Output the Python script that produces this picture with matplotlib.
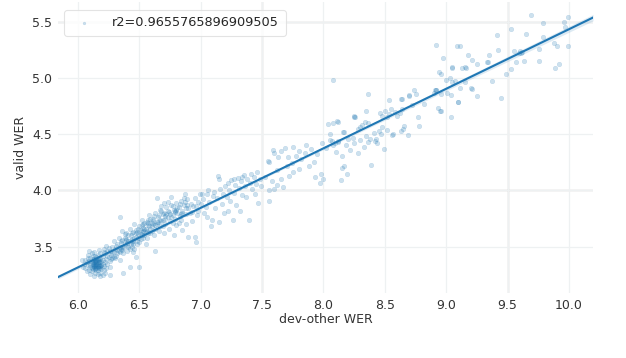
import numpy as np
import matplotlib.pyplot as plt

# points, grouped along the x axis
blob_x = [6.10, 6.12, 6.14, 6.15, 6.16, 6.17, 6.13, 6.18, 6.11, 6.19,
          6.15, 6.08, 6.20, 6.14, 6.16, 6.12, 6.21, 6.09, 6.17, 6.13,
          6.06, 6.22, 6.18, 6.15, 6.14, 6.16, 6.11, 6.19, 6.10, 6.23,
          6.07, 6.15, 6.17, 6.12, 6.20, 6.13, 6.18, 6.09, 6.24, 6.16,
          6.14, 6.15, 6.16, 6.13, 6.17, 6.12, 6.18, 6.14, 6.15, 6.19,
          6.05, 6.08, 6.21, 6.22, 6.11, 6.25, 6.10, 6.06, 6.26, 6.20,
          6.13, 6.17, 6.09, 6.27, 6.04, 6.23, 6.14, 6.16, 6.12, 6.18,
          6.15, 6.14, 6.16, 6.11, 6.19, 6.13, 6.17, 6.15, 6.12, 6.16,
          6.10, 6.20, 6.14, 6.18, 6.15, 6.13, 6.17, 6.16, 6.12, 6.14,
          6.28, 6.24, 6.07, 6.21, 6.29, 6.26, 6.03, 6.08, 6.22, 6.18,
          6.24, 6.26, 6.28, 6.25, 6.27, 6.23, 6.29, 6.21]
blob_y = [3.32, 3.35, 3.30, 3.37, 3.33, 3.36, 3.39, 3.31, 3.28, 3.34,
          3.41, 3.34, 3.38, 3.27, 3.29, 3.42, 3.33, 3.37, 3.40, 3.33,
          3.31, 3.36, 3.27, 3.34, 3.36, 3.38, 3.36, 3.30, 3.40, 3.39,
          3.36, 3.31, 3.33, 3.30, 3.42, 3.45, 3.44, 3.29, 3.35, 3.26,
          3.33, 3.35, 3.35, 3.36, 3.34, 3.33, 3.36, 3.38, 3.29, 3.37,
          3.35, 3.40, 3.29, 3.44, 3.44, 3.41, 3.26, 3.38, 3.37, 3.25,
          3.24, 3.47, 3.46, 3.43, 3.32, 3.31, 3.42, 3.43, 3.39, 3.39,
          3.38, 3.31, 3.32, 3.31, 3.33, 3.35, 3.37, 3.33, 3.37, 3.36,
          3.34, 3.35, 3.34, 3.33, 3.36, 3.32, 3.31, 3.39, 3.35, 3.37,
          3.40, 3.46, 3.28, 3.48, 3.45, 3.32, 3.38, 3.43, 3.27, 3.24,
          3.42, 3.46, 3.44, 3.49, 3.39, 3.51, 3.41, 3.45]

low_x = [6.30, 6.32, 6.34, 6.35, 6.36, 6.38, 6.40, 6.41, 6.42, 6.43,
         6.44, 6.45, 6.46, 6.47, 6.48, 6.49, 6.50, 6.51, 6.52, 6.53,
         6.54, 6.55, 6.56, 6.57, 6.58, 6.59, 6.60, 6.61, 6.62, 6.63,
         6.31, 6.33, 6.37, 6.39, 6.34, 6.36, 6.29, 6.32, 6.38, 6.40,
         6.42, 6.44, 6.46, 6.48, 6.50, 6.52, 6.54, 6.56, 6.58, 6.60,
         6.37, 6.50, 6.42, 6.26, 6.45, 6.63, 6.34, 6.47, 6.55, 6.62,
         6.28, 6.35, 6.39, 6.43, 6.47, 6.51, 6.53, 6.57, 6.61, 6.64,
         6.41, 6.45, 6.49, 6.53, 6.57, 6.59, 6.63, 6.36, 6.44, 6.52,
         6.31, 6.33, 6.35, 6.37, 6.39, 6.41, 6.43, 6.45, 6.47, 6.49,
         6.51, 6.53, 6.55, 6.57, 6.59, 6.61, 6.63, 6.65, 6.67, 6.69,
         6.71, 6.73, 6.75, 6.77, 6.79, 6.81, 6.83, 6.85, 6.87, 6.89,
         6.32, 6.36, 6.40, 6.44, 6.48, 6.52, 6.56, 6.60, 6.64, 6.68,
         6.72, 6.76, 6.80, 6.84, 6.88, 6.30, 6.34, 6.38, 6.46, 6.54]
low_y = [3.48, 3.52, 3.45, 3.55, 3.50, 3.58, 3.53, 3.60, 3.48, 3.56,
         3.62, 3.52, 3.58, 3.65, 3.55, 3.61, 3.68, 3.57, 3.63, 3.70,
         3.60, 3.66, 3.72, 3.62, 3.68, 3.75, 3.64, 3.70, 3.77, 3.66,
         3.42, 3.58, 3.44, 3.62, 3.38, 3.64, 3.55, 3.47, 3.52, 3.46,
         3.66, 3.50, 3.70, 3.63, 3.54, 3.74, 3.66, 3.58, 3.78, 3.71,
         3.27, 3.32, 3.32, 3.25, 3.45, 3.46, 3.76, 3.41, 3.52, 3.60,
         3.50, 3.48, 3.56, 3.52, 3.59, 3.65, 3.58, 3.69, 3.75, 3.72,
         3.55, 3.63, 3.66, 3.64, 3.74, 3.62, 3.80, 3.56, 3.57, 3.69,
         3.51, 3.46, 3.53, 3.49, 3.57, 3.50, 3.60, 3.55, 3.62, 3.58,
         3.61, 3.67, 3.63, 3.71, 3.66, 3.73, 3.69, 3.76, 3.74, 3.79,
         3.75, 3.82, 3.79, 3.86, 3.81, 3.84, 3.88, 3.80, 3.90, 3.87,
         3.44, 3.47, 3.51, 3.54, 3.52, 3.60, 3.64, 3.68, 3.70, 3.73,
         3.79, 3.76, 3.83, 3.79, 3.84, 3.40, 3.50, 3.61, 3.48, 3.71]

mid_x = [6.65, 6.66, 6.67, 6.68, 6.69, 6.70, 6.71, 6.72, 6.73, 6.74,
         6.75, 6.76, 6.77, 6.78, 6.79, 6.80, 6.81, 6.82, 6.83, 6.84,
         6.85, 6.86, 6.88, 6.89, 6.90, 6.92, 6.93, 6.95, 6.96, 6.98,
         6.66, 6.70, 6.74, 6.78, 6.80, 6.85, 6.90, 6.95, 6.96, 6.70,
         6.64, 6.76, 6.87, 6.99, 6.68, 6.82, 6.93, 6.73, 6.88, 6.97,
         6.67, 6.71, 6.79, 6.84, 6.91, 6.94, 6.69, 6.77, 6.86, 6.98,
         7.00, 7.02, 7.04, 7.05, 7.07, 7.08, 7.10, 7.11, 7.13, 7.14,
         7.15, 7.16, 7.18, 7.20, 7.21, 7.22, 7.23, 7.25, 7.26, 7.27,
         7.28, 7.30, 7.31, 7.33, 7.34, 7.35, 7.36, 7.38, 7.39, 7.40,
         7.41, 7.42, 7.43, 7.45, 7.46, 7.47, 7.48, 7.49, 7.03, 7.06,
         7.12, 7.17, 7.19, 7.24, 7.29, 7.32, 7.37, 7.44, 7.09, 7.01,
         7.15, 7.22, 7.34, 7.27, 7.05]
mid_y = [3.72, 3.78, 3.68, 3.82, 3.74, 3.80, 3.70, 3.85, 3.76, 3.81,
         3.73, 3.87, 3.78, 3.83, 3.75, 3.89, 3.80, 3.85, 3.77, 3.91,
         3.82, 3.87, 3.79, 3.92, 3.84, 3.88, 3.81, 3.93, 3.86, 3.90,
         3.64, 3.62, 3.66, 3.60, 3.69, 3.65, 3.59, 3.59, 3.54, 3.89,
         3.93, 3.94, 3.97, 3.97, 3.86, 3.71, 3.73, 3.90, 3.70, 3.78,
         3.83, 3.77, 3.82, 3.74, 3.80, 3.86, 3.68, 3.71, 3.93, 3.82,
         3.88, 3.92, 3.85, 3.97, 3.90, 3.68, 3.95, 3.99, 3.93, 4.13,
         3.72, 4.01, 3.97, 4.04, 3.94, 4.07, 4.00, 4.09, 3.74, 3.98,
         4.05, 4.11, 4.02, 4.08, 3.96, 4.14, 4.04, 4.10, 3.74, 4.07,
         4.15, 4.01, 4.12, 4.06, 4.16, 3.89, 4.10, 4.04, 3.80, 4.00,
         3.84, 3.88, 3.80, 3.91, 3.87, 3.82, 3.94, 3.97, 3.74, 3.97,
         4.10, 3.82, 4.12, 4.10, 3.76]

high_x = [7.55, 7.56, 7.59, 7.60, 7.71, 7.56, 7.60, 7.58, 7.62, 7.65,
          7.67, 7.72, 7.75, 7.56, 7.52, 7.69, 7.75, 7.86, 7.80, 7.63,
          7.65, 7.78, 7.70, 7.82, 7.85, 7.90, 7.95, 7.99, 8.02, 8.05,
          8.08, 8.10, 8.12, 8.15, 8.18, 8.20, 8.22, 8.25, 8.28, 8.30,
          8.33, 8.36, 7.93, 7.97, 7.98, 8.00, 8.14, 8.19, 7.88, 7.92,
          8.05, 8.16, 8.17, 8.08, 8.12, 8.26, 8.28, 8.31, 8.34, 8.04,
          8.11, 8.25, 8.08, 8.36, 8.36, 8.30, 8.24, 8.35, 8.38, 8.07,
          8.09, 8.12, 7.62, 7.74, 7.80, 8.39, 8.17, 8.15,
          8.42, 8.44, 8.43, 8.49, 8.41, 8.45, 8.48, 8.47, 8.52, 8.56,
          8.57, 8.65, 8.66, 8.63, 8.69, 8.78, 8.46, 8.48, 8.50, 8.53,
          8.55, 8.58, 8.60, 8.62, 8.64, 8.52, 8.77, 8.35, 8.25, 8.53,
          8.63, 8.64, 8.70, 8.72, 8.74, 8.75, 8.82, 8.92, 8.90, 8.91,
          8.92, 8.96, 9.01, 9.04, 9.10, 8.93, 8.95, 8.96, 9.04, 8.70,
          8.92, 8.97, 8.94, 8.96, 9.00, 9.03, 9.07, 9.05, 9.05, 9.09]
high_y = [4.26, 4.25, 4.36, 4.33, 4.30, 4.00, 4.01, 4.08, 4.05, 4.10,
          4.03, 4.13, 4.16, 3.91, 4.12, 4.38, 4.39, 4.40, 4.35, 4.30,
          4.35, 4.31, 4.22, 4.28, 4.33, 4.37, 4.32, 4.42, 4.38, 4.45,
          4.40, 4.34, 4.44, 4.31, 4.40, 4.46, 4.36, 4.42, 4.33, 4.45,
          4.39, 4.43, 4.12, 4.07, 4.15, 4.10, 4.09, 4.15, 4.22, 4.25,
          4.50, 4.52, 4.52, 4.60, 4.61, 4.65, 4.55, 4.58, 4.61, 4.59,
          4.62, 4.66, 4.98, 4.86, 4.60, 4.56, 4.47, 4.48, 4.46, 4.44,
          4.42, 4.43, 4.18, 4.24, 4.19, 4.23, 4.22, 4.20,
          4.44, 4.42, 4.46, 4.37, 4.51, 4.53, 4.56, 4.50, 4.54, 4.49,
          4.50, 4.55, 4.57, 4.53, 4.49, 4.57, 4.69, 4.66, 4.71, 4.68,
          4.72, 4.70, 4.66, 4.69, 4.72, 4.65, 4.65, 4.71, 4.655, 4.80,
          4.81, 4.81, 4.84, 4.76, 4.89, 4.86, 4.77, 4.89, 4.87, 4.89,
          4.89, 4.86, 4.87, 4.85, 4.79, 4.73, 4.71, 4.71, 4.65, 4.85,
          5.29, 5.18, 5.05, 5.03, 4.98, 5.00, 4.97, 4.96, 5.10, 5.28]

top_x = [9.11, 9.18, 9.21, 9.25, 9.05, 9.13, 9.15, 9.16, 9.11, 9.20,
         9.21, 9.15, 9.25, 9.37, 9.35, 9.33, 9.34, 9.41, 9.42, 9.45,
         9.49, 9.53, 9.53, 9.55, 9.57, 9.59, 9.60, 9.61, 9.62, 9.63,
         9.65, 9.69, 9.76, 9.76, 9.79, 9.79, 9.88, 9.89, 9.90, 9.92,
         9.96, 9.97, 9.99, 9.99, 9.10]
top_y = [5.28, 5.20, 5.16, 5.12, 5.09, 5.09, 5.10, 5.09, 4.91, 4.91,
         4.90, 4.96, 4.84, 4.97, 5.20, 5.14, 5.14, 5.38, 5.25, 4.82,
         5.03, 5.08, 5.43, 5.24, 5.14, 5.22, 5.24, 5.22, 5.23, 5.15,
         5.39, 5.56, 5.26, 5.15, 5.36, 5.49, 5.31, 5.09, 5.28, 5.12,
         5.50, 5.45, 5.28, 5.54, 4.79]

dev_other = np.array(blob_x + low_x + mid_x + high_x + top_x)
valid = np.array(blob_y + low_y + mid_y + high_y + top_y)

r2_label = "r2=0.9655765896909505"

fig = plt.figure(figsize=(6.26, 3.58), dpi=100)
ax = fig.add_axes([0.0927, 0.1807, 0.8546, 0.8137])

ax.set_xlim(5.837, 10.196)
ax.set_ylim(3.086, 5.674)
ax.set_xticks([6.0, 6.5, 7.0, 7.5, 8.0, 8.5, 9.0, 9.5, 10.0])
ax.set_yticks([3.5, 4.0, 4.5, 5.0, 5.5])
ax.grid(True, color="#eef1f2", linewidth=0.9, zorder=0)
for v in [7.5, 9.5]:
    ax.axvline(v, color="#c9c9c9", linewidth=1.0, zorder=0.5)
for v in [4.0, 5.5]:
    ax.axhline(v, color="#c9c9c9", linewidth=1.0, zorder=0.5)
for s in ax.spines.values():
    s.set_visible(False)
ax.tick_params(length=0, pad=4, labelsize=9, colors="#333333")

ax.scatter(dev_other, valid, s=11, color="#1f77b4", alpha=0.22,
           linewidths=0.3, label=r2_label, zorder=2)

# regression line with 95% band
slope, inter = np.polyfit(dev_other, valid, 1)
xs = np.linspace(5.837, 10.196, 100)
ys = slope * xs + inter
n = len(dev_other)
resid = valid - (slope * dev_other + inter)
s_err = np.sqrt(np.sum(resid ** 2) / (n - 2))
sxx = np.sum((dev_other - dev_other.mean()) ** 2)
band = 1.96 * s_err * np.sqrt(1 / n + (xs - dev_other.mean()) ** 2 / sxx)
ax.fill_between(xs, ys - band, ys + band, color="#1f77b4", alpha=0.15,
                linewidth=0, zorder=2.5)
ax.plot(xs, ys, color="#1f77b4", linewidth=1.5, zorder=3)

ax.set_xlabel("dev-other WER", fontsize=9, color="#333333", labelpad=1)
ax.set_ylabel("valid WER", fontsize=9, color="#333333", labelpad=4)

leg = ax.legend(loc="upper left", fontsize=9.3, markerscale=0.6,
                frameon=True, borderpad=0.5, handletextpad=1.2,
                bbox_to_anchor=(0.0, 0.995))
leg.get_frame().set_edgecolor("#dddddd")
leg.get_frame().set_linewidth(0.8)
for t in leg.get_texts():
    t.set_color("#262626")

fig.savefig("out.png", dpi=100)
